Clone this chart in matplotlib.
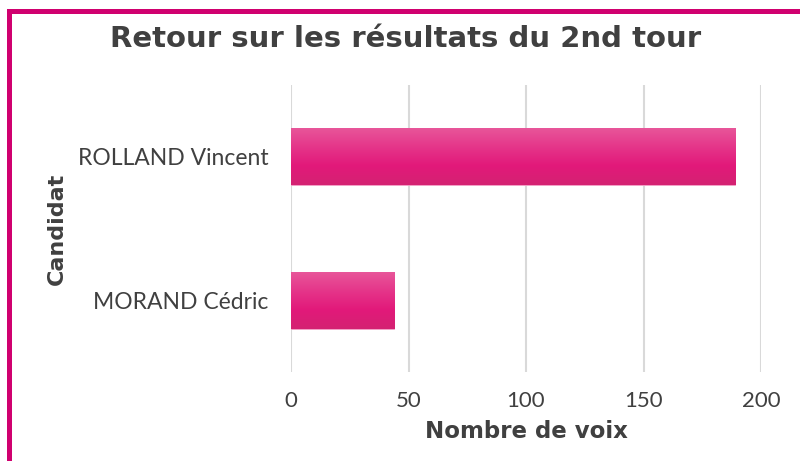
import numpy as np
import matplotlib
matplotlib.use('Agg')
import matplotlib.pyplot as plt
from matplotlib.patches import Rectangle
from matplotlib.colors import LinearSegmentedColormap

candidats = ["MORAND Cédric", "ROLLAND Vincent"]
voix = [44, 189]
ticks_x = [0, 50, 100, 150, 200]

plt.rcParams['font.family'] = ['Lato', 'DejaVu Sans']
gris = '#404040'
rose = '#d0006f'
gras = ['DejaVu Sans']

fig = plt.figure(figsize=(8, 4.61), dpi=100)
ax = fig.add_axes([291/800, 1 - 372/461, 470/800, 287/461])

bars = ax.barh(range(len(candidats)), voix, height=0.4,
               color='#e2197a', edgecolor='#f3a6c8', linewidth=0.6, zorder=2)

# degrade vertical sur chaque barre
cmap = LinearSegmentedColormap.from_list('rose', ['#d42272', '#e2197a', '#e5368a', '#e8579a'])
grad = np.linspace(0, 1, 100).reshape(-1, 1)
for b in bars:
    x0, y0 = b.get_x(), b.get_y()
    im = ax.imshow(grad, cmap=cmap, aspect='auto', origin='lower',
                   extent=[x0, x0 + b.get_width(), y0, y0 + b.get_height()], zorder=2.5)
    im.set_clip_path(b)

ax.set_xlim(0, 200)
ax.set_ylim(-0.5, 1.5)
ax.set_xticks(ticks_x)
ax.set_yticks(range(len(candidats)))
ax.set_yticklabels(candidats)
ax.tick_params(length=0, labelsize=16.5, labelcolor=gris, pad=16)
ax.tick_params(axis='x', labelsize=16, pad=14)
ax.grid(axis='x', color='#d9d9d9', linewidth=1.5, zorder=0)
for s in ax.spines.values():
    s.set_visible(False)

ax.set_xlabel('Nombre de voix', fontsize=16.5, fontweight='bold', color=gris,
              labelpad=6, family=gras)
ax.set_ylabel('Candidat', fontsize=16, fontweight='bold', color=gris,
              labelpad=8, family=gras)

fig.text(406/800, 1 - 39/461, 'Retour sur les résultats du 2nd tour', ha='center', va='center',
         fontsize=21, fontweight='bold', color=gris, family=gras)

# cadre rose
fig.add_artist(Rectangle((8.5/800, -0.1), 1.2, (461 - 11.5)/461 + 0.1,
                         transform=fig.transFigure, fill=False, edgecolor=rose, linewidth=3.6))

fig.savefig('out.png', dpi=100)
